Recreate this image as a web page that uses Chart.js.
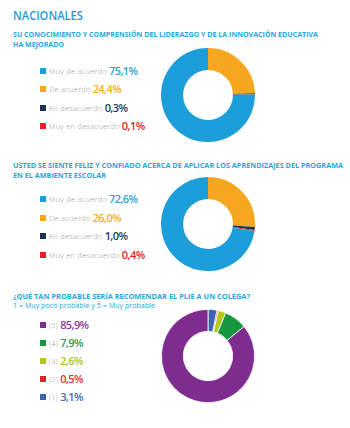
<!DOCTYPE html>
<html>
<head>
<meta charset="utf-8">
<script src="https://cdn.jsdelivr.net/npm/chart.js@4.4.0/dist/chart.umd.min.js"></script>
<style>
  html, body { margin: 0; padding: 0; background: #ffffff; }
  body { width: 350px; height: 428px; position: relative; overflow: hidden; font-family: "Open Sans", "Noto Sans", sans-serif; }
  .abs { position: absolute; white-space: nowrap; transform-origin: 0 50%; }
  .main { left: 13px; font-size: 12px; font-weight: 600; color: #1e9bd7; line-height: 15px; }
  .q { left: 13px; font-weight: 700; font-size: 7.4px; color: #2ba6dc; line-height: 10px; }
  .sub { left: 13px; font-weight: 400; font-size: 7.4px; color: #2ba6dc; line-height: 10px; }
  .row { position: absolute; left: 40px; height: 14px; display: flex; align-items: center; white-space: nowrap; }
  .sq { width: 6px; height: 6px; margin-right: 3px; flex: none; }
  .lab { font-size: 7.4px; font-weight: 300; letter-spacing: 0.3px; color: #9a9a9a; margin-right: 2px; }
  .val { font-size: 11px; font-weight: 600; letter-spacing: -0.6px; line-height: 14px; }
  .chart { position: absolute; width: 94px; height: 94px; }
</style>
</head>
<body>
<script>
// ---- data ----
const title = 'NACIONALES';
const q1Title = ['SU CONOCIMIENTO Y COMPRENSIÓN DEL LIDERAZGO Y DE LA INNOVACIÓN EDUCATIVA', 'HA MEJORADO'];
const q1Labels = ['Muy de acuerdo', 'De acuerdo', 'En desacuerdo', 'Muy en desacuerdo'];
const q1Values = [75.1, 24.4, 0.3, 0.1];
const q2Title = ['USTED SE SIENTE FELIZ Y CONFIADO ACERCA DE APLICAR LOS APRENDIZAJES DEL PROGRAMA', 'EN EL AMBIENTE ESCOLAR'];
const q2Labels = ['Muy de acuerdo', 'De acuerdo', 'En desacuerdo', 'Muy en desacuerdo'];
const q2Values = [72.6, 26.0, 1.0, 0.4];
const q3Title = ['¿QUÉ TAN PROBABLE SERÍA RECOMENDAR EL PLIE A UN COLEGA?'];
const q3Sub = '1 = Muy poco probable y 5 = Muy probable';
const q3Labels = ['(5)', '(4)', '(3)', '(2)', '(1)'];
const q3Values = [85.9, 7.9, 2.6, 0.5, 3.1];

// ---- styles ----
const agreeColors = ['#1b9ed9', '#f6a71f', '#1a3452', '#e3202c'];
const agreeValColors = ['#2aa3dc', '#f5b020', '#1f3a5a', '#e2232f'];
const scaleColors = ['#7e2c8e', '#17983f', '#b2cb1a', '#e3202c', '#3e63af'];
const scaleValColors = ['#83409a', '#2a9a4f', '#a9c427', '#e0303b', '#4568b0'];

function fmt(v) { return v.toFixed(1).replace('.', ',') + '%'; }

function addText(cls, text, centerY, targetW) {
  const d = document.createElement('div');
  d.className = 'abs ' + cls;
  d.textContent = text;
  document.body.appendChild(d);
  const h = d.getBoundingClientRect().height;
  d.style.top = (centerY - h / 2) + 'px';
  if (targetW) {
    const w = d.getBoundingClientRect().width;
    d.style.transform = 'scaleX(' + (targetW / w).toFixed(4) + ')';
  }
}

function addLegend(labels, values, sqColors, valColors, firstCenter, step) {
  labels.forEach((l, i) => {
    const r = document.createElement('div');
    r.className = 'row';
    r.style.top = (firstCenter + i * step - 7) + 'px';
    const s = document.createElement('div');
    s.className = 'sq'; s.style.background = sqColors[i];
    const a = document.createElement('span');
    a.className = 'lab'; a.textContent = l;
    const v = document.createElement('span');
    v.className = 'val'; v.style.color = valColors[i]; v.textContent = fmt(values[i]);
    r.appendChild(s); r.appendChild(a); r.appendChild(v);
    document.body.appendChild(r);
  });
}

function addDonut(cx, cy, labels, values, colors, order, bw) {
  const wrap = document.createElement('div');
  wrap.className = 'chart';
  wrap.style.left = (cx - 47) + 'px';
  wrap.style.top = (cy - 47) + 'px';
  const c = document.createElement('canvas');
  wrap.appendChild(c);
  document.body.appendChild(wrap);
  new Chart(c, {
    type: 'doughnut',
    data: {
      labels: order.map(i => labels[i]),
      datasets: [{
        data: order.map(i => values[i]),
        backgroundColor: order.map(i => colors[i]),
        borderWidth: bw,
        borderColor: '#ffffff'
      }]
    },
    options: {
      responsive: true,
      maintainAspectRatio: false,
      animation: false,
      cutout: '53%',
      layout: { padding: 0 },
      plugins: { legend: { display: false }, tooltip: { enabled: false } }
    }
  });
}

addText('main', title, 15.5, 70);
addText('q', q1Title[0], 34, 305);
addText('q', q1Title[1], 44.3, 51);
addLegend(q1Labels, q1Values, agreeColors, agreeValColors, 70.5, 18.5);
addDonut(208, 95, q1Labels, q1Values, agreeColors, [1, 2, 3, 0], 0);

addText('q', q2Title[0], 165, 330);
addText('q', q2Title[1], 174.5, 93);
addLegend(q2Labels, q2Values, agreeColors, agreeValColors, 199, 18.5);
addDonut(208, 224, q2Labels, q2Values, agreeColors, [1, 2, 3, 0], 0);

addText('q', q3Title[0], 295.5, 237);
addText('sub', q3Sub, 305.3, 142);
addLegend(q3Labels, q3Values, scaleColors, scaleValColors, 325, 18);
addDonut(208, 356, q3Labels, q3Values, scaleColors, [4, 3, 2, 1, 0], 0.8);
</script>
</body>
</html>
